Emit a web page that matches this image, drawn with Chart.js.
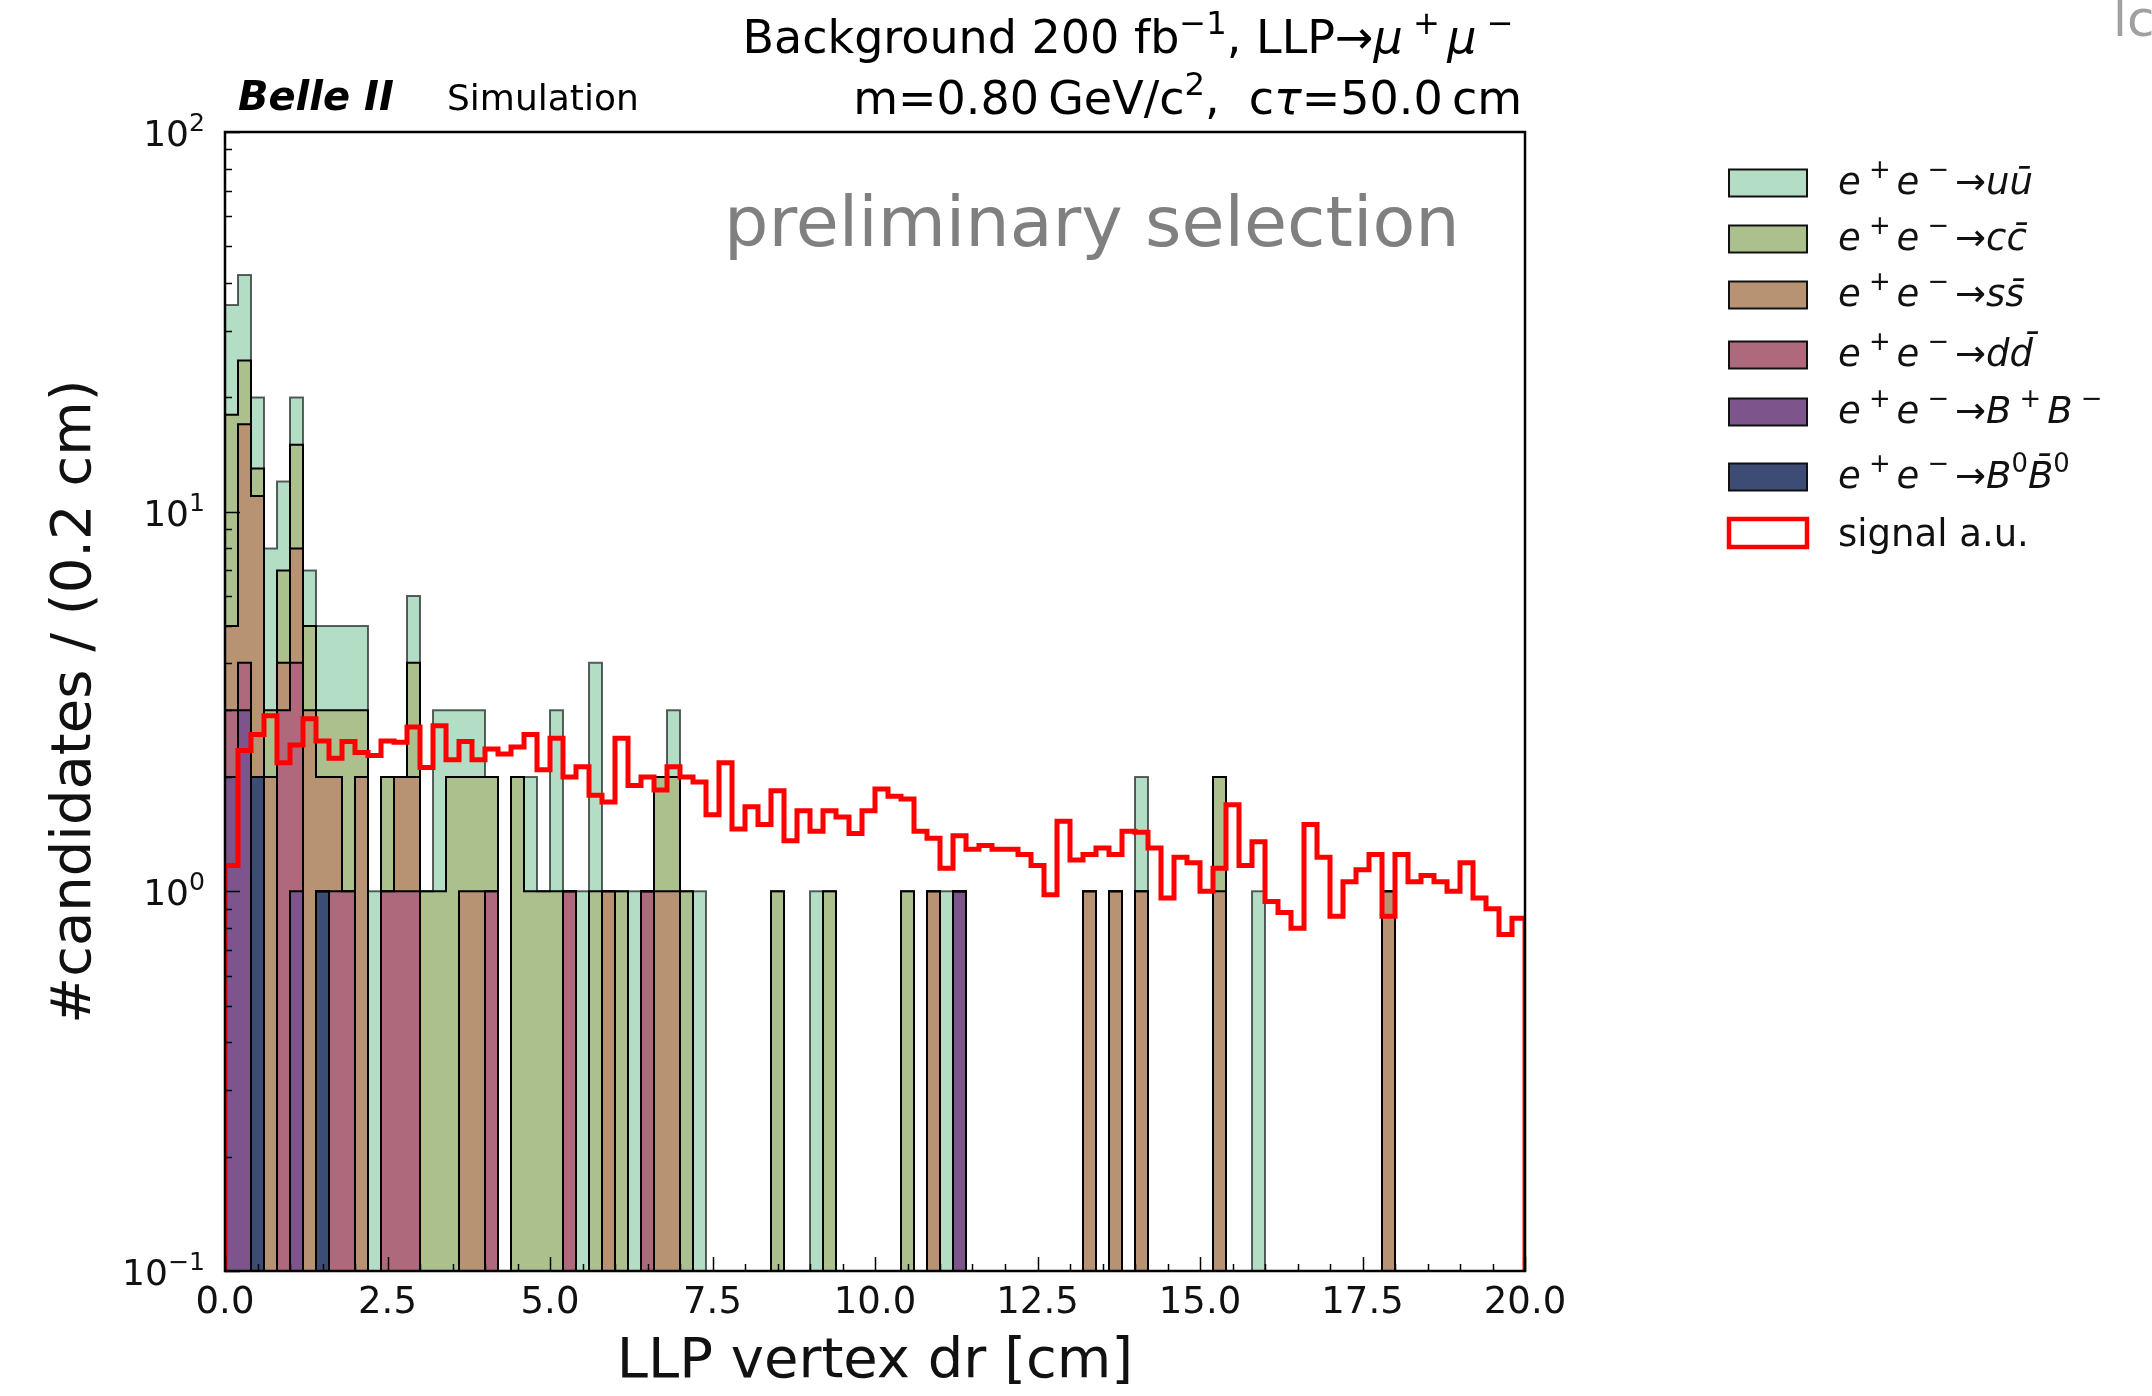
<!DOCTYPE html>
<html>
<head>
<meta charset="utf-8">
<title>LLP vertex dr</title>
<script src="https://cdn.jsdelivr.net/npm/chart.js@4.4.1/dist/chart.umd.min.js"></script>
<style>
  html, body { margin: 0; padding: 0; background: #fff; }
  #wrap { width: 2152px; height: 1396px; }
</style>
</head>
<body>
<div id="wrap"><canvas id="hist" width="2152" height="1396"></canvas></div>
<script>
// 100 bins of 0.2 cm between 0 and 20 cm
const binWidth = 0.2;
const nBins = 100;

// background candidates per bin
const uu = [
  17, 17, 7, 5, 5, 5, 2, 2, 2, 2,   2, 1, 0, 0, 2, 0, 2, 1, 1, 1,
  0, 0, 0, 1, 0, 2, 0, 1, 3, 0,     0, 1, 0, 0, 1, 0, 1, 0, 0, 0,
  0, 0, 0, 0, 0, 1, 0, 0, 0, 0,     0, 0, 0, 0, 0, 1, 0, 0, 0, 0,
  0, 0, 0, 0, 0, 0, 0, 0, 0, 0,     1, 0, 0, 0, 0, 0, 0, 0, 0, 1,
  0, 0, 0, 0, 0, 0, 0, 0, 0, 0,     0, 0, 0, 0, 0, 0, 0, 0, 0, 0
];
const cc = [
  13, 8, 2, 1, 3, 7, 2, 1, 1, 2,    1, 0, 1, 0, 2, 1, 1, 2, 1, 1,
  1, 0, 2, 1, 1, 1, 0, 0, 1, 0,     1, 0, 0, 1, 1, 1, 0, 0, 0, 0,
  0, 0, 1, 0, 0, 0, 1, 0, 0, 0,     0, 0, 1, 0, 0, 0, 0, 0, 0, 0,
  0, 0, 0, 0, 0, 0, 0, 0, 0, 0,     0, 0, 0, 0, 0, 0, 1, 0, 0, 0,
  0, 0, 0, 0, 0, 0, 0, 0, 0, 0,     0, 0, 0, 0, 0, 0, 0, 0, 0, 0
];
const ss = [
  2, 13, 9, 2, 1, 4, 3, 1, 1, 0,    2, 0, 0, 1, 1, 0, 0, 0, 1, 1,
  0, 0, 0, 0, 0, 0, 0, 0, 0, 1,     0, 0, 0, 1, 1, 0, 0, 0, 0, 0,
  0, 0, 0, 0, 0, 0, 0, 0, 0, 0,     0, 0, 0, 0, 1, 0, 0, 0, 0, 0,
  0, 0, 0, 0, 0, 0, 1, 0, 1, 0,     1, 0, 0, 0, 0, 0, 1, 0, 0, 0,
  0, 0, 0, 0, 0, 0, 0, 0, 0, 1,     0, 0, 0, 0, 0, 0, 0, 0, 0, 0
];
const dd = [
  1, 1, 0, 0, 3, 3, 0, 0, 1, 1,     0, 0, 1, 1, 1, 0, 0, 0, 0, 0,
  1, 0, 0, 0, 0, 0, 1, 0, 0, 0,     0, 0, 1, 0, 0, 0, 0, 0, 0, 0,
  0, 0, 0, 0, 0, 0, 0, 0, 0, 0,     0, 0, 0, 0, 0, 0, 0, 0, 0, 0,
  0, 0, 0, 0, 0, 0, 0, 0, 0, 0,     0, 0, 0, 0, 0, 0, 0, 0, 0, 0,
  0, 0, 0, 0, 0, 0, 0, 0, 0, 0,     0, 0, 0, 0, 0, 0, 0, 0, 0, 0
];
const bpbm = [
  2, 3, 0, 0, 0, 1, 0, 0, 0, 0,     0, 0, 0, 0, 0, 0, 0, 0, 0, 0,
  0, 0, 0, 0, 0, 0, 0, 0, 0, 0,     0, 0, 0, 0, 0, 0, 0, 0, 0, 0,
  0, 0, 0, 0, 0, 0, 0, 0, 0, 0,     0, 0, 0, 0, 0, 0, 1, 0, 0, 0,
  0, 0, 0, 0, 0, 0, 0, 0, 0, 0,     0, 0, 0, 0, 0, 0, 0, 0, 0, 0,
  0, 0, 0, 0, 0, 0, 0, 0, 0, 0,     0, 0, 0, 0, 0, 0, 0, 0, 0, 0
];
const b0b0 = [
  0, 0, 2, 0, 0, 0, 0, 1, 0, 0,     0, 0, 0, 0, 0, 0, 0, 0, 0, 0,
  0, 0, 0, 0, 0, 0, 0, 0, 0, 0,     0, 0, 0, 0, 0, 0, 0, 0, 0, 0,
  0, 0, 0, 0, 0, 0, 0, 0, 0, 0,     0, 0, 0, 0, 0, 0, 0, 0, 0, 0,
  0, 0, 0, 0, 0, 0, 0, 0, 0, 0,     0, 0, 0, 0, 0, 0, 0, 0, 0, 0,
  0, 0, 0, 0, 0, 0, 0, 0, 0, 0,     0, 0, 0, 0, 0, 0, 0, 0, 0, 0
];

// signal shape, arbitrary units
const signal = [
  1.17, 2.35, 2.59, 2.90, 2.18, 2.43, 2.85, 2.49, 2.24, 2.48,
  2.32, 2.28, 2.49, 2.47, 2.71, 2.12, 2.73, 2.22, 2.48, 2.22,
  2.37, 2.30, 2.40, 2.59, 2.09, 2.53, 2.00, 2.13, 1.79, 1.72,
  2.53, 1.90, 2.00, 1.85, 2.13, 2.00, 1.94, 1.59, 2.18, 1.46,
  1.67, 1.50, 1.84, 1.36, 1.63, 1.44, 1.63, 1.57, 1.42, 1.63,
  1.86, 1.78, 1.75, 1.44, 1.38, 1.15, 1.40, 1.29, 1.32, 1.29,
  1.29, 1.25, 1.17, 0.98, 1.53, 1.21, 1.25, 1.30, 1.25, 1.44,
  1.43, 1.30, 0.96, 1.23, 1.19, 1.00, 1.15, 1.69, 1.17, 1.35,
  0.94, 0.88, 0.80, 1.50, 1.23, 0.86, 1.06, 1.14, 1.25, 0.86,
  1.25, 1.06, 1.10, 1.06, 1.00, 1.19, 0.96, 0.90, 0.77, 0.85
];

const xTicks = [0, 2.5, 5, 7.5, 10, 12.5, 15, 17.5, 20];
const yTicks = [0.1, 1, 10, 100];
const yTickExponents = ['−1', '0', '1', '2'];
const yMin = 0.1, yMax = 100;

// charge superscripts are spaced like mathtext binary operators
const ee = [['e', 'i'], ['+', 'sup gap'], ['e', 'i'], ['−', 'sup gap'], ['→']];

// stacked bottom -> top
const layers = [
  { values: b0b0, color: '#3d4c74', label: [...ee, ['B', 'i'], ['0', 'sup'], ['B\u0304', 'i'], ['0', 'sup']] },
  { values: bpbm, color: '#7d548c', label: [...ee, ['B', 'i'], ['+', 'sup gap'], ['B', 'i'], ['−', 'sup gap']] },
  { values: dd,   color: '#ae6a7c', label: [...ee, ['dd\u0304', 'i']] },
  { values: ss,   color: '#b79373', label: [...ee, ['ss\u0304', 'i']] },
  { values: cc,   color: '#abc08d', label: [...ee, ['cc\u0304', 'i']] },
  { values: uu,   color: '#b3dec5', label: [...ee, ['uū', 'i']] }
];

// running sums give the top edge of every layer
let running = new Array(nBins).fill(0);
const cumulative = layers.map(l => (running = running.map((v, i) => v + l.values[i])));

// step outline along bin edges
function stepOutline(arr) {
  const pts = [{ x: 0, y: yMin }];
  arr.forEach((v, i) => pts.push({ x: i * binWidth, y: Math.max(v, yMin) }));
  pts.push({ x: nBins * binWidth, y: Math.max(arr[nBins - 1], yMin) });
  pts.push({ x: nBins * binWidth, y: yMin });
  return pts;
}

const datasets = [];
layers.forEach((l, k) => {
  datasets.push({
    type: 'bar',
    data: cumulative[k].map((v, i) => ({ x: (i + 0.5) * binWidth, y: v > 0 ? v : null })),
    backgroundColor: l.color,
    borderWidth: 0,
    barPercentage: 1,
    categoryPercentage: 1,
    grouped: false,
    order: 20 + k
  });
  datasets.push({
    type: 'line',
    data: stepOutline(cumulative[k]),
    borderColor: k === layers.length - 1 ? 'rgba(0,0,0,0.6)' : '#000',
    borderWidth: 2,
    stepped: 'before',
    pointRadius: 0,
    fill: false,
    order: 10 + k
  });
});
datasets.push({
  type: 'line',
  data: stepOutline(signal),
  borderColor: '#ff0000',
  borderWidth: 5,
  borderJoinStyle: 'miter',
  stepped: 'before',
  pointRadius: 0,
  fill: false,
  order: 0
});

function partFont(style, size) {
  const s = style.split(' ');
  const px = s.includes('sup') ? size * 0.7 : size;
  return (s.includes('i') ? 'italic ' : '') + (s.includes('b') ? 'bold ' : '') + px + 'px "DejaVu Sans"';
}
function partAdvance(ctx, t, st, size) {
  ctx.font = partFont(st, size);
  const gap = st.split(' ').includes('gap') ? size * 0.38 : 0;
  return ctx.measureText(t).width + gap;
}
function richWidth(ctx, parts, size) {
  return parts.reduce((w, [t, st = '']) => w + partAdvance(ctx, t, st, size), 0);
}
function drawRich(ctx, parts, x, y, size, align) {
  let cx = align === 'right' ? x - richWidth(ctx, parts, size) : x;
  ctx.textAlign = 'left';
  ctx.textBaseline = 'alphabetic';
  for (const [t, st = ''] of parts) {
    const s = st.split(' ');
    ctx.font = partFont(st, size);
    ctx.fillText(t, cx + (s.includes('gap') ? size * 0.22 : 0), y + (s.includes('sup') ? -size * 0.42 : 0));
    cx += partAdvance(ctx, t, st, size);
  }
}

const decorations = {
  id: 'decorations',
  afterDatasetsDraw(chart) {
    const { ctx, chartArea: a, scales: { x, y } } = chart;
    ctx.save();
    ctx.strokeStyle = '#000';
    ctx.lineWidth = 1.5;
    ctx.beginPath();
    // x ticks every 0.5, long ones on labelled values
    for (let i = 0; i <= 40; i++) {
      const px = Math.round(x.getPixelForValue(i * 0.5)) + 0.5;
      const len = i % 5 === 0 ? 14 : 7;
      ctx.moveTo(px, a.bottom);
      ctx.lineTo(px, a.bottom - len);
    }
    // y ticks: decades long, 2..9 short
    for (let e = -1; e <= 2; e++) {
      for (let m = 1; m <= 9; m++) {
        const v = m * Math.pow(10, e);
        if (v > yMax * 1.0001) break;
        const py = Math.round(y.getPixelForValue(v)) + 0.5;
        ctx.moveTo(a.left, py);
        ctx.lineTo(a.left + (m === 1 ? 15 : 7), py);
      }
    }
    ctx.stroke();
    ctx.lineWidth = 2.5;
    ctx.strokeRect(a.left, a.top, a.right - a.left, a.bottom - a.top);

    // decade labels 10^n
    ctx.fillStyle = '#111';
    yTicks.forEach((v, i) => {
      const py = y.getPixelForValue(v);
      drawRich(ctx, [['10'], [yTickExponents[i], 'sup']], a.left - 20, py + 14, 36, 'right');
    });
    ctx.restore();
  },
  afterDraw(chart) {
    const { ctx, chartArea: a } = chart;
    ctx.save();
    ctx.fillStyle = '#000';
    drawRich(ctx, [['Belle II', 'b i']], 238, 110, 40);
    drawRich(ctx, [['Simulation']], 447, 110, 36);
    drawRich(ctx, [['Background 200 fb'], ['−1', 'sup'], [', LLP→'], ['μ', 'i'], ['+', 'sup gap'], ['μ', 'i'], ['−', 'sup gap']], a.right - 4, 53, 46, 'right');
    drawRich(ctx, [['m=0.80\u2009GeV/c'], ['2', 'sup'], [',  c'], ['τ', 'i'], ['=50.0\u2009cm']], a.right - 3, 114, 46, 'right');
    ctx.fillStyle = '#808080';
    drawRich(ctx, [['preliminary selection']], 724, 246, 70);
    ctx.fillStyle = '#a0a0a0';
    drawRich(ctx, [['lc']], 2113, 36, 50);

    // legend, top entry first
    const rows = [183, 239, 295, 355, 412, 477];
    const bx = 1729, bw = 78, bh = 27, tx = 1838;
    layers.slice().reverse().forEach((l, r) => {
      const cy = rows[r];
      ctx.fillStyle = l.color;
      ctx.fillRect(bx, cy - bh / 2, bw, bh);
      ctx.strokeStyle = '#111';
      ctx.lineWidth = 2;
      ctx.strokeRect(bx, cy - bh / 2, bw, bh);
      ctx.fillStyle = '#111';
      drawRich(ctx, l.label, tx, cy + 11, 37);
    });
    ctx.strokeStyle = '#ff0000';
    ctx.lineWidth = 4.5;
    ctx.strokeRect(bx, 533 - 14, bw, 28);
    ctx.fillStyle = '#111';
    drawRich(ctx, [['signal a.u.']], tx, 546, 37);
    ctx.restore();
  }
};

new Chart(document.getElementById('hist'), {
  type: 'bar',
  data: { datasets },
  options: {
    responsive: false,
    animation: false,
    layout: { padding: { left: 0, top: 132, right: 627, bottom: 0 } },
    plugins: { legend: { display: false }, tooltip: { enabled: false } },
    scales: {
      x: {
        type: 'linear',
        min: 0,
        max: 20,
        offset: false,
        grid: { display: false, drawTicks: false },
        border: { display: false },
        afterBuildTicks: s => { s.ticks = xTicks.map(v => ({ value: v })); },
        afterFit: s => { s.height = 125; },
        ticks: {
          autoSkip: false,
          maxRotation: 0,
          padding: 10,
          color: '#111',
          font: { family: 'DejaVu Sans', size: 37 },
          callback: v => v.toFixed(1)
        },
        title: {
          display: true,
          text: 'LLP vertex dr [cm]',
          color: '#111',
          font: { family: 'DejaVu Sans', size: 56, lineHeight: 1.2 },
          padding: { top: 0, bottom: 0 }
        }
      },
      y: {
        type: 'logarithmic',
        min: yMin,
        max: yMax,
        grid: { display: false, drawTicks: false },
        border: { display: false },
        afterBuildTicks: s => { s.ticks = yTicks.map(v => ({ value: v })); },
        afterFit: s => { s.width = 225; },
        ticks: { display: false },
        title: {
          display: true,
          text: '#candidates / (0.2 cm)',
          color: '#111',
          font: { family: 'DejaVu Sans', size: 56, lineHeight: 1.2 },
          padding: { top: 42, bottom: 0 }
        }
      }
    }
  },
  plugins: [decorations]
});
</script>
</body>
</html>
